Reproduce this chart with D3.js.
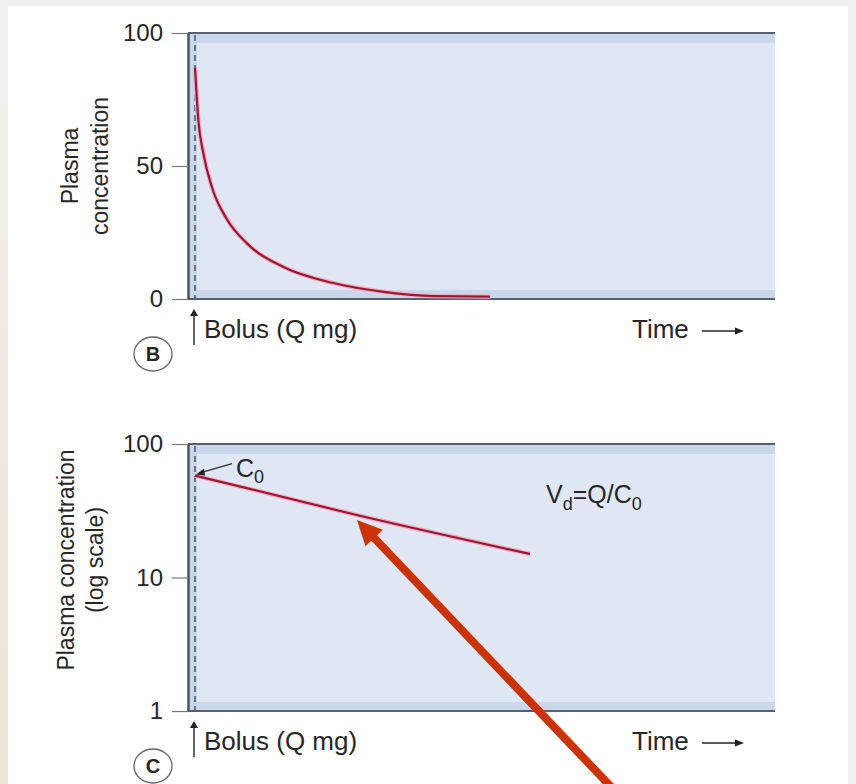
<!DOCTYPE html>
<html>
<head>
<meta charset="utf-8">
<script src="https://d3js.org/d3.v7.min.js"></script>
<style>
  body { margin: 0; background: #f1f1f1; }
  svg text { font-family: "Liberation Sans", Arial, sans-serif; fill: #262626; }
</style>
</head>
<body>
<svg id="viz"></svg>
<script>
// panel B: linear concentration after a bolus
var timeB = [0, 0.07, 0.17, 0.35, 0.66, 1.07, 1.83, 2.86, 3.9, 4.93, 6.1];
var concB = [87, 67, 55, 42, 30, 21, 12, 6, 2.7, 1.1, 0.9];
var ticksB = [0, 50, 100];

// panel C: same thing on a log axis, a straight line
var timeC = [0, 3.41, 6.93];
var concC = [58, 29, 15];
var ticksC = [1, 10, 100];

var width = 856, height = 784;
var svg = d3.select("#viz").attr("width", width).attr("height", height);

// page / white panel
svg.append("rect").attr("x", 8).attr("y", 6).attr("width", 840).attr("height", 778).attr("fill", "#ffffff");
var grad = svg.append("defs").append("linearGradient").attr("id", "edge")
  .attr("x1", 0).attr("y1", 0).attr("x2", 0).attr("y2", 1);
grad.append("stop").attr("offset", "0%").attr("stop-color", "#f1f1f1");
grad.append("stop").attr("offset", "100%").attr("stop-color", "#ece4d3");
svg.append("rect").attr("x", 0).attr("y", 0).attr("width", 8).attr("height", height).attr("fill", "url(#edge)");

var x = d3.scaleLinear().domain([-0.145, 12]).range([188, 775]);

function panel(opts) {
  var g = svg.append("g");
  var top = opts.y.range()[1], bot = opts.y.range()[0];
  var left = x.range()[0], right = x.range()[1];

  // shaded plot area with darker frame band
  g.append("rect").attr("x", left).attr("y", top).attr("width", right - left).attr("height", bot - top)
    .attr("fill", "#c9d7eb");
  g.append("rect").attr("x", left + 9).attr("y", top + 10).attr("width", right - left - 9).attr("height", bot - top - 19)
    .attr("fill", "#dfe6f4");

  // frame lines
  g.append("line").attr("x1", left).attr("x2", right).attr("y1", top).attr("y2", top)
    .attr("stroke", "#566070").attr("stroke-width", 2);
  g.append("line").attr("x1", left).attr("x2", right).attr("y1", bot).attr("y2", bot)
    .attr("stroke", "#566070").attr("stroke-width", 2);

  // dashed bolus line at t = 0
  g.append("line").attr("x1", x(0)).attr("x2", x(0)).attr("y1", top + 2).attr("y2", bot)
    .attr("stroke", "#4e5c72").attr("stroke-width", 1.6).attr("stroke-dasharray", "6,4");

  // y axis
  var ax = g.append("g").attr("transform", "translate(" + left + ",0)")
    .call(d3.axisLeft(opts.y).tickValues(opts.ticks).tickSize(16).tickSizeOuter(0).tickPadding(9)
      .tickFormat(d3.format("d")));
  ax.select(".domain").attr("stroke", "#4a5363").attr("stroke-width", 2.5);
  ax.selectAll(".tick line").attr("stroke", "#777").attr("stroke-width", 1.2);
  ax.selectAll(".tick text").attr("font-size", 24).attr("fill", "#262626")
    .style("font-family", "'Liberation Sans', Arial, sans-serif");

  // axis title
  opts.title.forEach(function (t) {
    g.append("text").attr("transform", "translate(" + t.x + "," + opts.titleY + ") rotate(-90)")
      .attr("text-anchor", "middle").attr("font-size", 23).text(t.s);
  });

  // data line
  var pts = opts.t.map(function (d, i) { return [d, opts.c[i]]; });
  var line = d3.line().x(function (d) { return x(d[0]); }).y(function (d) { return opts.y(d[1]); }).curve(d3.curveMonotoneX);
  g.append("path").datum(pts)
    .attr("fill", "none").attr("stroke", "#f0b0c0").attr("stroke-width", 4.5).attr("d", line);
  g.append("path").datum(pts)
    .attr("fill", "none").attr("stroke", "#9c1636").attr("stroke-width", 2.2).attr("d", line);

  // bolus arrow + label
  var by = bot + 10;
  g.append("line").attr("x1", x(0) - 1).attr("x2", x(0) - 1).attr("y1", by + 36).attr("y2", by + 4)
    .attr("stroke", "#333").attr("stroke-width", 1.5);
  g.append("path").attr("d", "M" + (x(0) - 5) + "," + (by + 7) + " L" + (x(0) - 1) + "," + by + " L" + (x(0) + 3) + "," + (by + 7) + " Z")
    .attr("fill", "#222");
  g.append("text").attr("x", 204).attr("y", bot + 39).attr("font-size", 26).text("Bolus (Q mg)");

  // time label + arrow
  g.append("text").attr("x", 632).attr("y", bot + 39).attr("font-size", 26).text("Time");
  g.append("line").attr("x1", 702).attr("x2", 737).attr("y1", bot + 32).attr("y2", bot + 32)
    .attr("stroke", "#222").attr("stroke-width", 1.6);
  g.append("path").attr("d", "M735," + (bot + 28.5) + " L744," + (bot + 32) + " L735," + (bot + 35.5) + " Z").attr("fill", "#222");

  // panel letter
  g.append("ellipse").attr("cx", 153).attr("cy", bot + 55).attr("rx", 19).attr("ry", 17)
    .attr("fill", "#fff").attr("stroke", "#666").attr("stroke-width", 1.3);
  g.append("text").attr("x", 153).attr("y", bot + 62).attr("text-anchor", "middle")
    .attr("font-size", 20).attr("font-weight", "bold").text(opts.letter);
  return g;
}

var yB = d3.scaleLinear().domain([0, 100]).range([299, 33]);
panel({ y: yB, ticks: ticksB, t: timeB, c: concB, letter: "B", titleY: 166,
  title: [{ s: "Plasma", x: 78 }, { s: "concentration", x: 108 }] });

var yC = d3.scaleLog().domain([1, 100]).range([711, 444]);
var gC = panel({ y: yC, ticks: ticksC, t: timeC, c: concC, letter: "C", titleY: 560,
  title: [{ s: "Plasma concentration", x: 74 }, { s: "(log scale)", x: 103 }] });

// C0 pointer
var c0x = x(timeC[0]), c0y = yC(concC[0]);
gC.append("line").attr("x1", 232).attr("y1", c0y - 12).attr("x2", c0x + 6).attr("y2", c0y - 3)
  .attr("stroke", "#333").attr("stroke-width", 1.4);
gC.append("path").attr("d", "M" + (c0x + 1) + "," + (c0y - 1) + " L" + (c0x + 9) + "," + (c0y - 7) + " L" + (c0x + 10) + "," + c0y + " Z")
  .attr("fill", "#222");
var c0 = gC.append("text").attr("x", 236).attr("y", c0y + 1).attr("font-size", 25);
c0.append("tspan").text("C");
c0.append("tspan").attr("font-size", 18).attr("dy", 6).text("0");

// Vd formula
var vd = gC.append("text").attr("x", 546).attr("y", 503).attr("font-size", 25);
vd.append("tspan").text("V");
vd.append("tspan").attr("font-size", 18).attr("dy", 7).text("d");
vd.append("tspan").attr("dy", -7).text("=Q/C");
vd.append("tspan").attr("font-size", 18).attr("dy", 7).text("0");

// big red annotation arrow pointing at the line
var tip = [x(3.35), yC(27)], tail = [614, 790];
var dx = tip[0] - tail[0], dy = tip[1] - tail[1], len = Math.sqrt(dx * dx + dy * dy);
var ux = dx / len, uy = dy / len, px = -uy, py = ux;
var base = [tip[0] - ux * 25, tip[1] - uy * 25];
svg.append("line").attr("x1", tail[0]).attr("y1", tail[1]).attr("x2", base[0] + ux * 2).attr("y2", base[1] + uy * 2)
  .attr("stroke", "#cc3300").attr("stroke-width", 8);
svg.append("path").attr("d", "M" + tip[0] + "," + tip[1] +
  " L" + (base[0] + px * 12) + "," + (base[1] + py * 12) +
  " L" + (base[0] - px * 12) + "," + (base[1] - py * 12) + " Z").attr("fill", "#cc3300");
</script>
</body>
</html>
